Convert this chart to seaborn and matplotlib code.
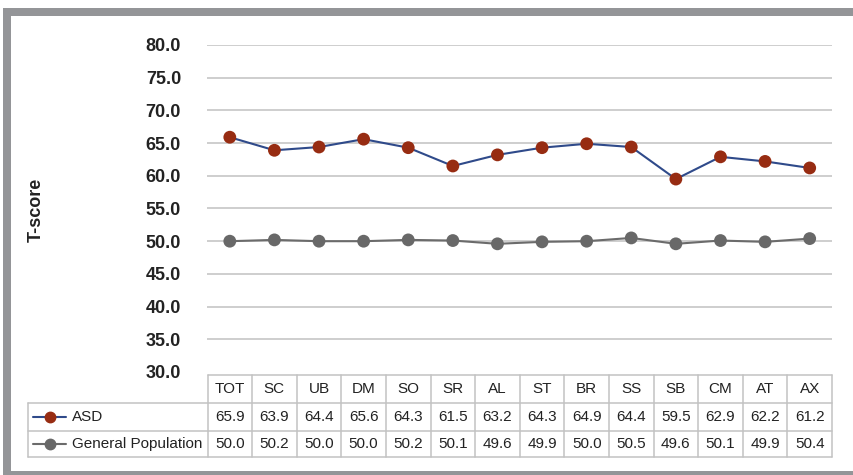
import numpy as np
import pandas as pd
import matplotlib.pyplot as plt
import seaborn as sns
from matplotlib.lines import Line2D
from matplotlib.patches import Rectangle

scales = ["TOT", "SC", "UB", "DM", "SO", "SR", "AL", "ST", "BR", "SS", "SB", "CM", "AT", "AX"]
asd = [65.9, 63.9, 64.4, 65.6, 64.3, 61.5, 63.2, 64.3, 64.9, 64.4, 59.5, 62.9, 62.2, 61.2]
general = [50.0, 50.2, 50.0, 50.0, 50.2, 50.1, 49.6, 49.9, 50.0, 50.5, 49.6, 50.1, 49.9, 50.4]
series_names = ["ASD", "General Population"]
y_ticks = [30, 35, 40, 45, 50, 55, 60, 65, 70, 75, 80]

line_colors = {"ASD": "#2f4a8a", "General Population": "#6b6b6b"}
marker_colors = {"ASD": "#972c12", "General Population": "#686868"}

df = pd.DataFrame({
    "scale": scales * 2,
    "pos": list(range(len(scales))) * 2,
    "score": asd + general,
    "group": ["ASD"] * len(scales) + ["General Population"] * len(scales),
})

sns.set_theme(style="white")
plt.rcParams["font.family"] = ["Liberation Sans", "DejaVu Sans"]

W, H = 854, 475
fig = plt.figure(figsize=(W / 100, H / 100), dpi=100)

# main plot area, in pixel units of the reference
left, right, top, bottom = 207.5, 832, 45, 372
ax = fig.add_axes([left / W, 1 - bottom / H, (right - left) / W, (bottom - top) / H])

sns.lineplot(data=df, x="pos", y="score", hue="group", palette=line_colors,
             linewidth=1.5, legend=False, ax=ax, zorder=3)
sns.scatterplot(data=df, x="pos", y="score", hue="group", palette=marker_colors,
                s=85, edgecolor="none", legend=False, ax=ax, zorder=4)

ax.set_xlim(-0.5, len(scales) - 0.5)
ax.set_ylim(30, 80)
ax.set_yticks(y_ticks)
ax.set_yticklabels([f"{v:.1f}" for v in y_ticks], fontsize=13, fontweight="bold", color="#222222")
ax.set_xticks([])
ax.set_xlabel("")
ax.set_ylabel("")
ax.tick_params(axis="y", length=0, pad=19)
for v in y_ticks[1:]:
    ax.axhline(v, color="#c6c6c6", linewidth=1.2, zorder=1)
for s in ax.spines.values():
    s.set_visible(False)

fig.text(36 / W, 1 - 210 / H, "T-score", rotation=90, ha="center", va="center",
         fontsize=13, fontweight="bold", color="#222222")

# data table below the plot
tx0, tx1, ty0, ty1 = 28, 832, 375, 457
tab = fig.add_axes([tx0 / W, 1 - ty1 / H, (tx1 - tx0) / W, (ty1 - ty0) / H])
tab.set_xlim(tx0, tx1)
tab.set_ylim(ty1, ty0)
tab.axis("off")
grid_c = "#c2c2c2"
row_y = [375, 403, 431, 457]
col_w = (right - left) / len(scales)
col_x = [left + i * col_w for i in range(len(scales) + 1)]
for i, yv in enumerate(row_y):
    x_start = left if i == 0 else tx0
    tab.plot([x_start, right], [yv, yv], color=grid_c, lw=1.1, clip_on=False)
for xv in col_x:
    tab.plot([xv, xv], [row_y[0], row_y[-1]], color=grid_c, lw=1.1, clip_on=False)
tab.plot([tx0, tx0], [row_y[1], row_y[-1]], color=grid_c, lw=1.1, clip_on=False)

for i, name in enumerate(scales):
    cx = col_x[i] + col_w / 2
    tab.text(cx, (row_y[0] + row_y[1]) / 2, name, ha="center", va="center", fontsize=11, color="#222222")
    tab.text(cx, (row_y[1] + row_y[2]) / 2, f"{asd[i]:.1f}", ha="center", va="center", fontsize=11, color="#222222")
    tab.text(cx, (row_y[2] + row_y[3]) / 2, f"{general[i]:.1f}", ha="center", va="center", fontsize=11, color="#222222")

for k, name in enumerate(series_names):
    cy = (row_y[k + 1] + row_y[k + 2]) / 2
    tab.plot([33, 66], [cy, cy], color=line_colors[name], lw=1.5, clip_on=False)
    tab.plot([50], [cy], "o", color=marker_colors[name], ms=7.5, clip_on=False)
    tab.text(72, cy, name, ha="left", va="center", fontsize=11, color="#222222")

# grey frame around the figure
frame_c = "#949598"
fig.add_artist(Rectangle((3 / W, 1 - 16 / H), 1, 8 / H, transform=fig.transFigure, color=frame_c, lw=0))
fig.add_artist(Rectangle((3 / W, 0), 8 / W, 1 - 8 / H, transform=fig.transFigure, color=frame_c, lw=0))
fig.add_artist(Rectangle((3 / W, 0), 1, 4 / H, transform=fig.transFigure, color=frame_c, lw=0))

fig.savefig("out.png", dpi=100, facecolor="white")
